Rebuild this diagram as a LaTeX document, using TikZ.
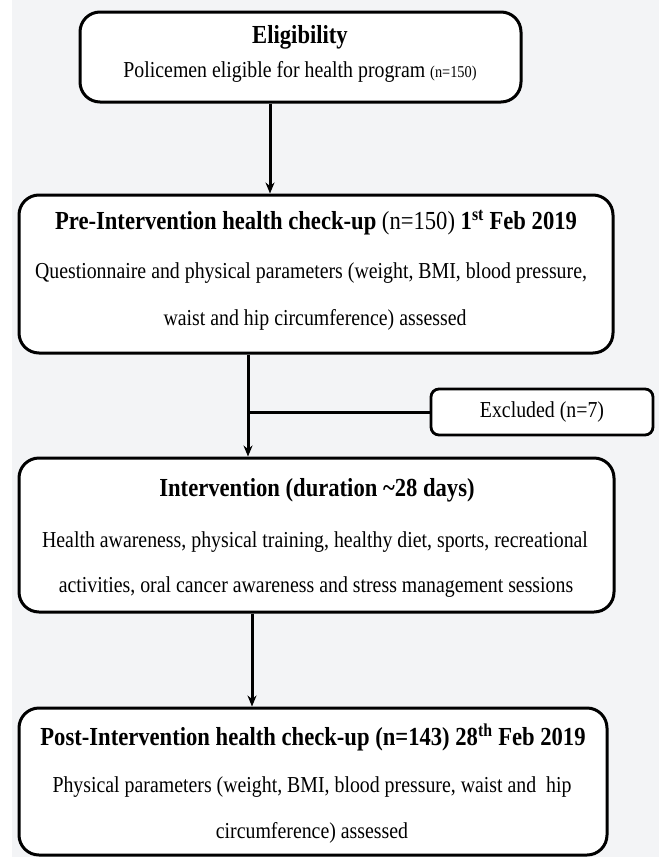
\documentclass[tikz,border=0pt]{standalone}
\usepackage{fontspec}
\setmainfont{Liberation Serif}[FakeStretch=0.87]
\usetikzlibrary{arrows.meta}
\definecolor{bg}{HTML}{F3F4F6}
\tikzset{
  box/.style={draw=black, line width=3pt, rounded corners=20pt, fill=white, inner sep=0pt},
  smallbox/.style={draw=black, line width=2.8pt, rounded corners=8pt, fill=white, inner sep=0pt},
  ttl/.style={font=\fontsize{26}{30}\selectfont\bfseries, inner sep=0pt, anchor=center},
  txt/.style={font=\fontsize{22.8}{27}\selectfont, inner sep=0pt, anchor=center},
  arr/.style={line width=3pt, -{Stealth[length=11pt,width=9pt]}},
  ln/.style={line width=3pt}
}
\begin{document}
\begin{tikzpicture}[x=1pt,y=-1pt]
\useasboundingbox (0,0) rectangle (659,857);
\fill[bg] (0,0) rectangle (659,857);
\fill[white] (0,0) rectangle (12,857);
% boxes
\node[box, minimum width=441pt, minimum height=90pt] (b1) at (300.5,57) {};
\node[box, minimum width=594pt, minimum height=158pt] (b2) at (316,274) {};
\node[smallbox, minimum width=222pt, minimum height=46pt] (ex) at (542,412) {};
\node[box, minimum width=595pt, minimum height=154pt] (b3) at (316.5,535) {};
\node[box, minimum width=588pt, minimum height=147pt] (b4) at (313,781.5) {};
% texts
\node[ttl] (t1) at (300,37) {Eligibility};
\node[txt] (s1) at (300,72) {Policemen eligible for health program {\fontsize{16.5}{20}\selectfont(n=150)}};
\node[ttl] (t2) at (316,223) {Pre-Intervention health check-up {\mdseries(n=150)} 1\textsuperscript{st} Feb 2019};
\node[txt] (s2a) at (311,273) {Questionnaire and physical parameters (weight, BMI, blood pressure,};
\node[txt] (s2b) at (315,320) {waist and hip circumference) assessed};
\node[txt] (te) at (542,412) {Excluded (n=7)};
\node[ttl] (t3) at (317,490) {Intervention (duration \textasciitilde 28 days)};
\node[txt] (s3a) at (315,542) {Health awareness, physical training, healthy diet, sports, recreational};
\node[txt] (s3b) at (316,587) {activities, oral cancer awareness and stress management sessions};
\node[ttl] (t4) at (313,737) {Post-Intervention health check-up (n=143) 28\textsuperscript{th} Feb 2019};
\node[txt] (s4a) at (312,787) {Physical parameters (weight, BMI, blood pressure, waist and\ \ hip};
\node[txt] (s4b) at (312,833) {circumference) assessed};
% connectors
\coordinate (c1) at (270,0);
\coordinate (c2) at (248,412);
\coordinate (c3) at (252,0);
\draw[arr] (b1.south -| c1) -- (b2.north -| c1);
\draw[arr] (b2.south -| c2) -- (b3.north -| c2);
\draw[ln] (c2) -- (ex.west);
\draw[arr] (b3.south -| c3) -- (b4.north -| c3);
\end{tikzpicture}
\end{document}
